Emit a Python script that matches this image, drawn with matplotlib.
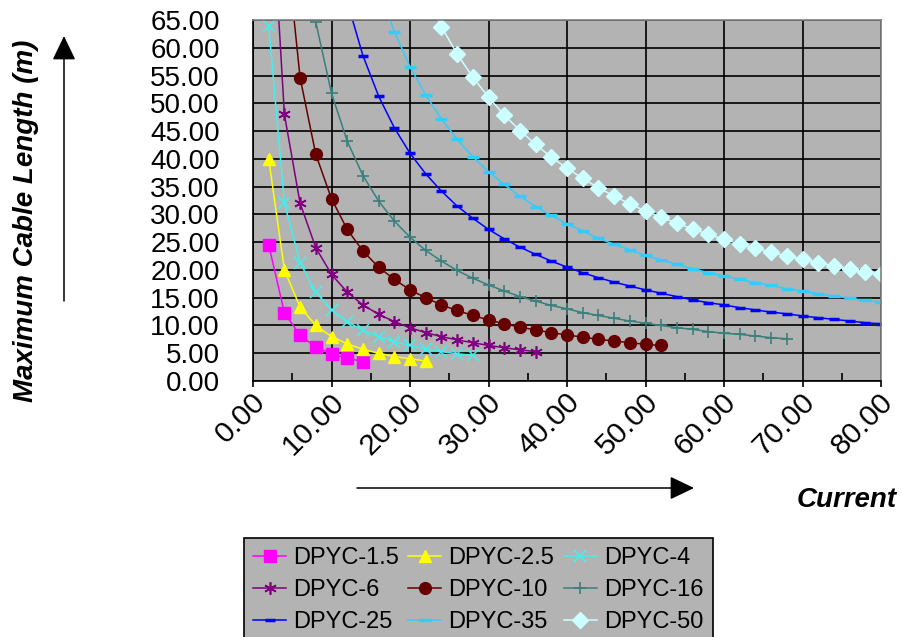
import matplotlib
matplotlib.use("Agg")
import matplotlib.pyplot as plt
import matplotlib.transforms as mtransforms
from matplotlib.ticker import MultipleLocator, FormatStrFormatter

plt.rcParams['font.family'] = ['Liberation Sans', 'DejaVu Sans']

# current (A) values used as x for every series
current = [2, 4, 6, 8, 10, 12, 14, 16, 18, 20, 22, 24, 26, 28, 30, 32, 34, 36, 38, 40,
           42, 44, 46, 48, 50, 52, 54, 56, 58, 60, 62, 64, 66, 68, 70, 72, 74, 76, 78, 80]

# maximum cable length (m); each series starts at start_current
len_1_5 = [24.5, 12.3, 8.2, 6.1, 4.9, 4.1, 3.5]
len_2_5 = [40.0, 20.0, 13.3, 10.0, 8.0, 6.7, 5.7, 5.0, 4.4, 4.0, 3.6]
len_4 = [64.0, 32.0, 21.3, 16.0, 12.8, 10.7, 9.1, 8.0, 7.1, 6.4, 5.8, 5.3, 4.9, 4.6]
len_6 = [96.0, 48.0, 32.0, 24.0, 19.2, 16.0, 13.7, 12.0, 10.7, 9.6, 8.7, 8.0, 7.4, 6.9,
         6.4, 6.0, 5.6, 5.3]
len_10 = [82.0, 54.6, 40.8, 32.8, 27.3, 23.4, 20.5, 18.3, 16.4, 15.0, 13.7, 12.7, 11.8,
          11.0, 10.3, 9.7, 9.2, 8.7, 8.3, 7.9, 7.5, 7.2, 6.9, 6.6, 6.4]
len_16 = [86.3, 64.6, 51.8, 43.2, 37.0, 32.4, 28.8, 25.9, 23.5, 21.6, 19.9, 18.5, 17.3,
          16.2, 15.2, 14.4, 13.6, 13.0, 12.3, 11.8, 11.3, 10.8, 10.4, 10.0, 9.6, 9.3,
          8.9, 8.6, 8.4, 8.1, 7.8, 7.6]
len_25 = [82.0, 68.3, 58.6, 51.3, 45.6, 41.0, 37.3, 34.2, 31.5, 29.3, 27.3, 25.6, 24.1,
          22.8, 21.6, 20.5, 19.5, 18.6, 17.8, 17.1, 16.4, 15.8, 15.2, 14.6, 14.1, 13.7,
          13.2, 12.8, 12.4, 12.1, 11.7, 11.4, 11.1, 10.8, 10.5, 10.3]
len_35 = [70.8, 62.9, 56.6, 51.5, 47.2, 43.5, 40.4, 37.7, 35.4, 33.3, 31.4, 29.8, 28.3,
          27.0, 25.7, 24.6, 23.6, 22.6, 21.8, 21.0, 20.2, 19.5, 18.9, 18.3, 17.7, 17.2,
          16.6, 16.2, 15.7, 15.3, 14.9, 14.5, 14.2]
len_50 = [69.6, 63.8, 58.9, 54.7, 51.1, 47.9, 45.1, 42.6, 40.3, 38.3, 36.5, 34.8, 33.3,
          31.9, 30.6, 29.5, 28.4, 27.4, 26.4, 25.5, 24.7, 23.9, 23.2, 22.5, 21.9, 21.3,
          20.7, 20.2, 19.6, 19.2]

names = ['DPYC-1.5', 'DPYC-2.5', 'DPYC-4', 'DPYC-6', 'DPYC-10', 'DPYC-16',
         'DPYC-25', 'DPYC-35', 'DPYC-50']
series = [len_1_5, len_2_5, len_4, len_6, len_10, len_16, len_25, len_35, len_50]
start_current = [2, 2, 2, 2, 4, 6, 10, 16, 22]

colors = ['#ff00ff', '#ffff00', '#40f0f0', '#800080', '#660000', '#3a7f7a',
          '#0000ff', '#33ccff', '#ccffff']
markers = ['s', '^', 'x', (6, 2, 0), 'o', '+', '_', '_', 'D']
msizes = [8, 8.5, 8, 9, 8.5, 9, 6.5, 8, 8.5]
mews = [1, 1, 1.1, 1.2, 1, 1.2, 2.5, 2.5, 1]

fig = plt.figure(figsize=(9.02, 6.37), dpi=100)
ax = fig.add_axes([253 / 902, 1 - 381 / 637, 628 / 902, 361 / 637])
ax.set_facecolor('#b3b3b3')

lines = []
for name, ys, x0, c, m, ms, mew in zip(names, series, start_current, colors, markers, msizes, mews):
    i0 = current.index(x0)
    xs = current[i0:i0 + len(ys)]
    ln, = ax.plot(xs, ys, color=c, lw=1.1, marker=m, markersize=ms,
                  markerfacecolor=c, markeredgecolor=c, markeredgewidth=mew, label=name)
    lines.append(ln)

ax.set_xlim(0, 80)
ax.set_ylim(0, 65)
ax.xaxis.set_major_locator(MultipleLocator(10))
ax.xaxis.set_minor_locator(MultipleLocator(5))
ax.yaxis.set_major_locator(MultipleLocator(5))
ax.xaxis.set_major_formatter(FormatStrFormatter('%.2f'))
ax.yaxis.set_major_formatter(FormatStrFormatter('%.2f'))

ax.set_axisbelow(True)
ax.grid(True, which='major', color='black', lw=1.2)

ax.tick_params(axis='x', which='major', direction='out', length=4, width=1.2,
               pad=8, labelsize=21.5)
ax.tick_params(axis='x', which='minor', direction='in', length=6, width=1.2)
ax.tick_params(axis='y', which='major', length=0, pad=24, labelsize=20)
shift = mtransforms.ScaledTranslation(8 / 100, 0, fig.dpi_scale_trans)
for lab in ax.get_xticklabels():
    lab.set_rotation(45)
    lab.set_ha('right')
    lab.set_va('center')
    lab.set_rotation_mode('anchor')
    lab.set_transform(lab.get_transform() + shift)

for side in ['left', 'bottom']:
    ax.spines[side].set_color('black')
    ax.spines[side].set_linewidth(1.2)
for side in ['top', 'right']:
    ax.spines[side].set_color('#808080')
    ax.spines[side].set_linewidth(1.2)

fig.text(26 / 902, 1 - 221 / 637, 'Maximum Cable Length (m)', rotation=90,
         fontsize=20, fontweight='bold', style='italic', ha='center', va='center')
fig.text(897 / 902, 1 - 500 / 637, 'Current', fontsize=20, fontweight='bold',
         style='italic', ha='right', va='center')

arrow_style = dict(arrowstyle='-|>,head_length=0.75,head_width=0.36', color='black',
                   lw=1.1, mutation_scale=20, shrinkA=0, shrinkB=0)
ax.annotate('', xy=(64 / 902, 1 - 36 / 637), xytext=(64 / 902, 1 - 301 / 637),
            xycoords='figure fraction', textcoords='figure fraction', arrowprops=arrow_style)
ax.annotate('', xy=(694 / 902, 1 - 488 / 637), xytext=(357 / 902, 1 - 488 / 637),
            xycoords='figure fraction', textcoords='figure fraction', arrowprops=arrow_style)

# legend is laid out row by row in the reference
order = [0, 3, 6, 1, 4, 7, 2, 5, 8]
leg = fig.legend([lines[i] for i in order], [names[i] for i in order], ncol=3,
                 loc='upper left', bbox_to_anchor=(244 / 902, 1 - 538 / 637),
                 bbox_transform=fig.transFigure, borderaxespad=0, fontsize=17,
                 frameon=True, fancybox=False, framealpha=1, facecolor='#b3b3b3',
                 edgecolor='black', handlelength=1.4, handletextpad=0.3,
                 columnspacing=0.4, labelspacing=0.42, borderpad=0.38, numpoints=1)
leg.get_frame().set_linewidth(1.2)

fig.savefig('out.png', dpi=100)
